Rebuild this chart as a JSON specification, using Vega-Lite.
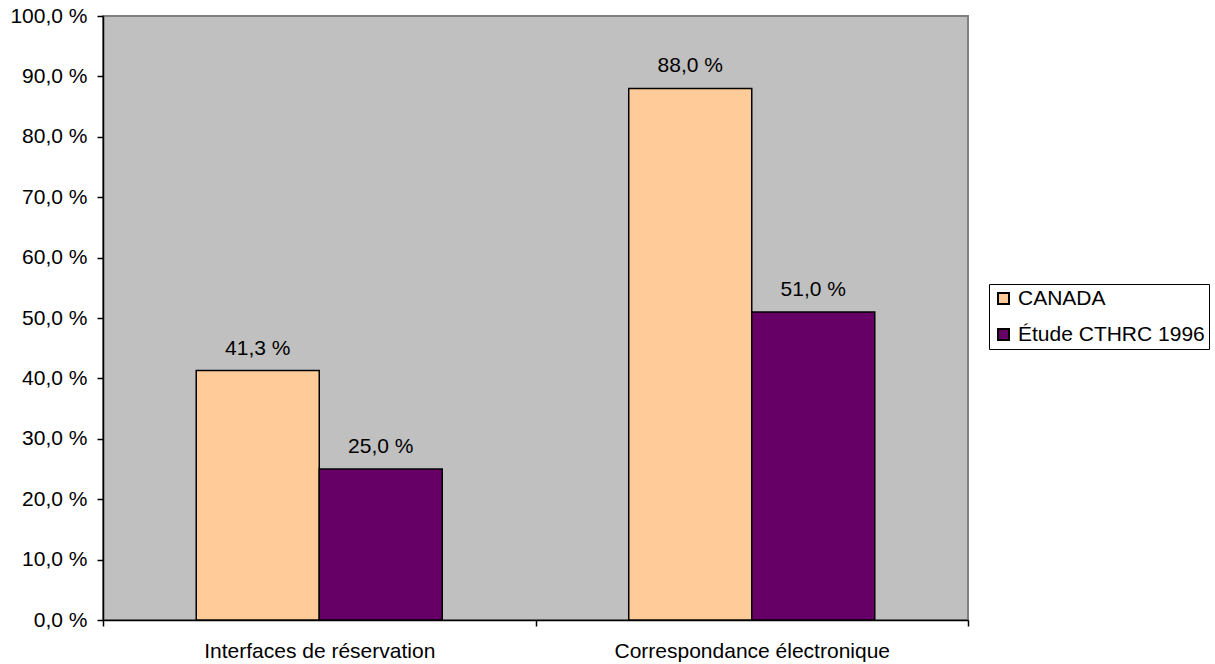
{
  "$schema": "https://vega.github.io/schema/vega-lite/v6.json",
  "width": 865,
  "height": 604,
  "autosize": "none",
  "padding": {"left": 103, "top": 16, "right": 247, "bottom": 44},
  "background": "white",
  "config": {
    "font": "Liberation Sans",
    "view": {"fill": "#C0C0C0", "stroke": "#808080", "strokeWidth": 2}
  },
  "data": {
    "values": [
      {"categorie": "Interfaces de réservation", "serie": "CANADA", "valeur": 41.3},
      {"categorie": "Interfaces de réservation", "serie": "Étude CTHRC 1996", "valeur": 25.0},
      {"categorie": "Correspondance électronique", "serie": "CANADA", "valeur": 88.0},
      {"categorie": "Correspondance électronique", "serie": "Étude CTHRC 1996", "valeur": 51.0}
    ]
  },
  "transform": [
    {"calculate": "replace(format(datum.valeur, '.1f'), '.', ',') + ' %'", "as": "etiquette"}
  ],
  "encoding": {
    "x": {
      "field": "categorie",
      "type": "nominal",
      "sort": ["Interfaces de réservation", "Correspondance électronique"],
      "scale": {"paddingInner": 0, "paddingOuter": 0},
      "axis": {
        "title": null,
        "labelAngle": 0,
        "labelLimit": 0,
        "tickBand": "extent",
        "grid": false,
        "domainColor": "black",
        "domainWidth": 1.5,
        "tickColor": "black",
        "tickWidth": 1.5,
        "tickSize": 6,
        "labelFontSize": 21,
        "labelColor": "black",
        "labelPadding": 14
      }
    },
    "xOffset": {
      "field": "serie",
      "type": "nominal",
      "sort": ["CANADA", "Étude CTHRC 1996"],
      "scale": {"paddingInner": 0, "paddingOuter": 0.758}
    },
    "y": {
      "field": "valeur",
      "type": "quantitative",
      "scale": {"domain": [0, 100], "nice": false},
      "axis": {
        "title": null,
        "values": [0, 10, 20, 30, 40, 50, 60, 70, 80, 90, 100],
        "grid": false,
        "domainColor": "black",
        "domainWidth": 1.5,
        "tickColor": "black",
        "tickWidth": 1.5,
        "tickSize": 6,
        "labelFontSize": 21,
        "labelColor": "black",
        "labelPadding": 10,
        "labelExpr": "replace(format(datum.value, '.1f'), '.', ',') + ' %'"
      }
    }
  },
  "layer": [
    {
      "mark": {"type": "bar", "stroke": "black", "strokeWidth": 1.5},
      "encoding": {
        "color": {
          "field": "serie",
          "type": "nominal",
          "sort": ["CANADA", "Étude CTHRC 1996"],
          "scale": {"domain": ["CANADA", "Étude CTHRC 1996"], "range": ["#FFCC99", "#660066"]},
          "legend": {
            "title": null,
            "orient": "none",
            "legendX": 886,
            "legendY": 268,
            "padding": 4,
            "strokeColor": "black",
            "fillColor": "white",
            "cornerRadius": 0,
            "labelFontSize": 21,
            "labelColor": "black",
            "labelLimit": 0,
            "labelOffset": 4,
            "rowPadding": 14,
            "symbolType": "square",
            "symbolSize": 120,
            "symbolStrokeColor": "black",
            "symbolStrokeWidth": 2
          }
        }
      }
    },
    {
      "mark": {"type": "text", "fontSize": 21, "color": "black", "baseline": "alphabetic", "dy": -16},
      "encoding": {
        "text": {"field": "etiquette"}
      }
    }
  ]
}
